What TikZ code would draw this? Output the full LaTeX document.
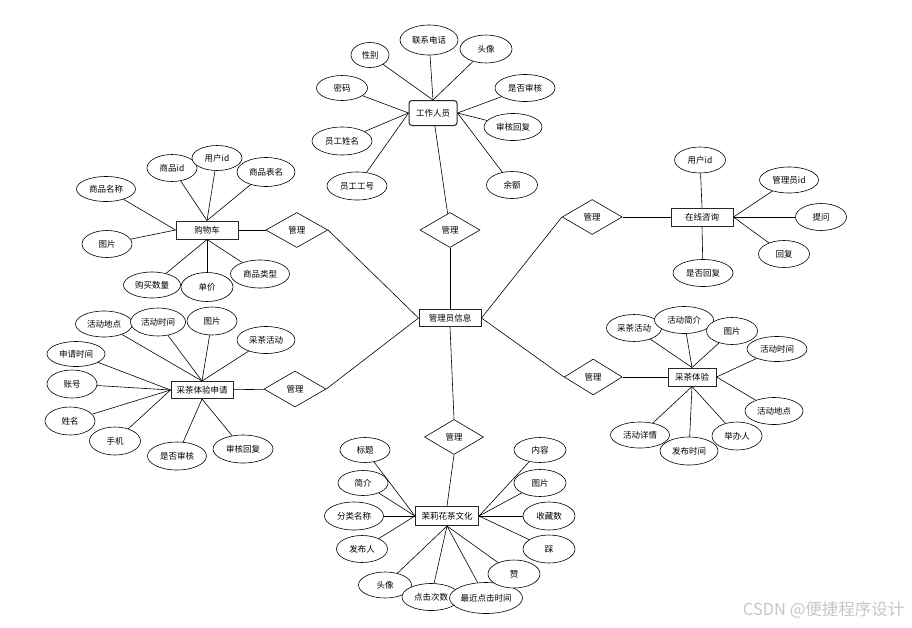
\documentclass[tikz,border=0pt]{standalone}
\usepackage{fontspec}
\setmainfont{Noto Sans CJK SC}
\usepackage{xcolor}
\usetikzlibrary{shapes.geometric,positioning}

\begin{document}
\begin{tikzpicture}[
        x=1pt, y=-1pt,
        font=\fontsize{8.5pt}{10pt}\selectfont,
        attr/.style={draw, ellipse, fill=white, line width=0.6pt, inner sep=0pt, minimum width=52pt, minimum height=27pt},
        entity/.style={draw=black!85, rectangle, fill=white, line width=1pt, inner sep=2pt, minimum width=62pt, minimum height=18pt},
        rel/.style={draw, diamond, fill=white, line width=0.6pt, inner sep=0pt, minimum width=60pt, minimum height=35pt},
        link/.style={line width=0.6pt}
    ]
        \useasboundingbox (0,0) rectangle (912,627);

        % centre
        \node[entity, minimum height=17pt] (admin) at (450,318) {管理员信息};

        % staff
        \node[rel] (rtop) at (450,230) {管理};
        \node[entity, rounded corners=3pt, minimum width=48pt, minimum height=25pt] (staff) at (433,113) {工作人员};
        \node[attr, minimum width=38pt, minimum height=25pt] (sex) at (370,55) {性别};
        \node[attr, minimum width=58pt, minimum height=30pt] (phone) at (429,40) {联系电话};
        \node[attr, minimum height=28pt] (avatar) at (486,49) {头像};
        \node[attr, minimum width=51pt, minimum height=25pt] (pwd) at (342,88) {密码};
        \node[attr, minimum width=60pt] (audit) at (525,88) {是否审核};
        \node[attr, minimum width=58pt] (reply) at (513,127) {审核回复};
        \node[attr, minimum width=60pt, minimum height=28pt] (sname) at (342,141) {员工姓名};
        \node[attr, minimum width=60pt, minimum height=28pt] (sno) at (357,186) {员工工号};
        \node[attr, minimum width=51pt] (balance) at (512,185) {余额};

        \draw[link] (sex) -- (staff.north);
        \draw[link] (phone) -- (staff.north);
        \draw[link] (avatar) -- (staff.north);
        \draw[link] (pwd) -- (staff.west);
        \draw[link] (sname) -- (staff.west);
        \draw[link] (sno) -- (staff.west);
        \draw[link] (audit) -- (staff.east);
        \draw[link] (reply) -- (staff.east);
        \draw[link] (balance) -- (staff.east);
        \draw[link] (staff) -- (rtop);
        \draw[link] (rtop) -- (admin);

        % cart
        \node[entity] (cart) at (207,230) {购物车};
        \node[rel, right=27pt of cart, minimum width=62pt] (rcart) {管理};
        \node[attr, minimum width=59pt, minimum height=25pt] (gname) at (106,189) {商品名称};
        \node[attr, minimum width=50pt] (gid) at (172,168) {商品id};
        \node[attr, minimum width=50pt, minimum height=25pt] (uid) at (217,158) {用户id};
        \node[attr, minimum width=58pt, minimum height=29pt] (gtable) at (266,172) {商品表名};
        \node[attr, minimum width=50pt] (gpic) at (107,244) {图片};
        \node[attr, minimum width=57pt, minimum height=26pt] (qty) at (152,285) {购买数量};
        \node[attr, minimum height=29pt] (price) at (207,287) {单价};
        \node[attr, minimum width=59pt, minimum height=28pt] (gtype) at (260,274) {商品类型};

        \draw[link] (gname) -- (cart.west);
        \draw[link] (gpic) -- (cart.west);
        \draw[link] (gid) -- (cart.north);
        \draw[link] (uid) -- (cart.north);
        \draw[link] (gtable) -- (cart.north);
        \draw[link] (qty) -- (cart.south);
        \draw[link] (price) -- (cart.south);
        \draw[link] (gtype) -- (cart.south);
        \draw[link] (cart) -- (rcart);
        \draw[link] (rcart.east) -- (admin.west);

        % apply
        \node[entity, minimum height=17pt] (apply) at (202,390) {采茶体验申请};
        \node[rel, minimum width=62pt, minimum height=36pt] (rapply) at (295,389) {管理};
        \node[attr, minimum width=57pt, minimum height=26pt] (aplace) at (104,324) {活动地点};
        \node[attr, minimum width=55pt, minimum height=28pt] (atime) at (158,322) {活动时间};
        \node[attr, minimum width=50pt, minimum height=28pt] (apic) at (212,321) {图片};
        \node[attr, minimum width=58pt] (aact) at (266,340) {采茶活动};
        \node[attr, minimum width=58pt, minimum height=25pt] (adate) at (76,354) {申请时间};
        \node[attr, minimum width=50pt, minimum height=28pt] (acct) at (72,384) {账号};
        \node[attr, minimum width=50pt, minimum height=28pt] (aname) at (70,421) {姓名};
        \node[attr, minimum width=51pt, minimum height=28pt] (amob) at (115,441) {手机};
        \node[attr, minimum width=59pt, minimum height=28pt] (aaudit) at (177,456) {是否审核};
        \node[attr, minimum width=60pt, minimum height=28pt] (areply) at (243,449) {审核回复};

        \draw[link] (aplace) -- (apply.north);
        \draw[link] (atime) -- (apply.north);
        \draw[link] (apic) -- (apply.north);
        \draw[link] (aact) -- (apply.north);
        \draw[link] (adate) -- (apply.west);
        \draw[link] (acct) -- (apply.west);
        \draw[link] (aname) -- (apply.west);
        \draw[link] (amob) -- (apply.west);
        \draw[link] (aaudit) -- (apply.south);
        \draw[link] (areply) -- (apply.south);
        \draw[link] (apply) -- (rapply);
        \draw[link] (rapply.east) -- (admin.west);

        % culture
        \node[rel, minimum width=59pt] (rcult) at (454,437) {管理};
        \node[entity, minimum width=63pt, minimum height=19pt] (culture) at (447,516) {茉莉花茶文化};
        \node[attr, minimum width=50pt, minimum height=25pt] (title) at (365,450) {标题};
        \node[attr, minimum width=50pt, minimum height=25pt] (intro) at (363,483) {简介};
        \node[attr, minimum width=59pt, minimum height=28pt] (cat) at (354,516) {分类名称};
        \node[attr, minimum width=51pt] (pub) at (362,549) {发布人};
        \node[attr, minimum width=53pt, minimum height=26pt] (head) at (385,585) {头像};
        \node[attr, minimum width=58pt] (clicks) at (431,597) {点击次数};
        \node[attr, minimum width=73pt, minimum height=31pt] (lastclick) at (486,598) {最近点击时间};
        \node[attr, minimum height=28pt] (like) at (514,574) {赞};
        \node[attr, minimum height=28pt] (dislike) at (549,549) {踩};
        \node[attr, minimum height=28pt] (fav) at (549,516) {收藏数};
        \node[attr] (cpic) at (540,483) {图片};
        \node[attr, minimum height=25pt] (content) at (540,450) {内容};

        \draw[link] (title) -- (culture.west);
        \draw[link] (intro) -- (culture.west);
        \draw[link] (cat) -- (culture.west);
        \draw[link] (pub) -- (culture.west);
        \draw[link] (head) -- (culture.south);
        \draw[link] (clicks) -- (culture.south);
        \draw[link] (lastclick) -- (culture.south);
        \draw[link] (like) -- (culture.south);
        \draw[link] (dislike) -- (culture.east);
        \draw[link] (fav) -- (culture.east);
        \draw[link] (cpic) -- (culture.east);
        \draw[link] (content) -- (culture.east);
        \draw[link] (rcult.south) -- (culture.north);
        \draw[link] (rcult.north) -- (admin.south);

        % consult
        \node[entity] (consult) at (702,217) {在线咨询};
        \node[rel, left=48pt of consult] (rcons) {管理};
        \node[attr, minimum width=51pt, minimum height=26pt] (cuid) at (700,160) {用户id};
        \node[attr, minimum width=59pt, minimum height=26pt] (cadmin) at (789,180) {管理员id};
        \node[attr, minimum width=51pt] (ask) at (821,217) {提问};
        \node[attr, minimum width=51pt] (creply) at (784,254) {回复};
        \node[attr, minimum width=60pt] (replied) at (703,273) {是否回复};

        \draw[link] (cuid) -- (consult.north);
        \draw[link] (cadmin) -- (consult.east);
        \draw[link] (ask) -- (consult.east);
        \draw[link] (creply) -- (consult.east);
        \draw[link] (replied) -- (consult.south);
        \draw[link] (rcons) -- (consult);
        \draw[link] (rcons.west) -- (admin.east);

        % experience
        \node[entity, minimum width=48pt] (exp) at (692,377) {采茶体验};
        \node[rel, left=45pt of exp, minimum width=58pt, minimum height=36pt] (rexp) {管理};
        \node[attr, minimum width=55pt] (eact) at (634,328) {采茶活动};
        \node[attr, minimum width=59pt] (eintro) at (684,320) {活动简介};
        \node[attr, minimum width=51pt] (epic) at (732,331) {图片};
        \node[attr, minimum width=60pt, minimum height=25pt] (etime) at (777,349) {活动时间};
        \node[attr, minimum width=58pt] (eplace) at (774,411) {活动地点};
        \node[attr, minimum width=50pt, minimum height=28pt] (host) at (737,436) {举办人};
        \node[attr, minimum width=59pt, minimum height=26pt] (detail) at (640,435) {活动详情};
        \node[attr, minimum width=58pt, minimum height=28pt] (ptime) at (689,451) {发布时间};

        \draw[link] (eact) -- (exp.north);
        \draw[link] (eintro) -- (exp.north);
        \draw[link] (epic) -- (exp.north);
        \draw[link] (etime) -- (exp.east);
        \draw[link] (eplace) -- (exp.east);
        \draw[link] (host) -- (exp.south);
        \draw[link] (ptime) -- (exp.south);
        \draw[link] (detail) -- (exp.south);
        \draw[link] (rexp) -- (exp);
        \draw[link] (rexp.west) -- (admin.east);

        \node[text=gray!45, font=\fontsize{16.5pt}{18pt}\selectfont, anchor=east] (mark) at (908,610) {CSDN @便捷程序设计};
    \end{tikzpicture}
\end{document}
